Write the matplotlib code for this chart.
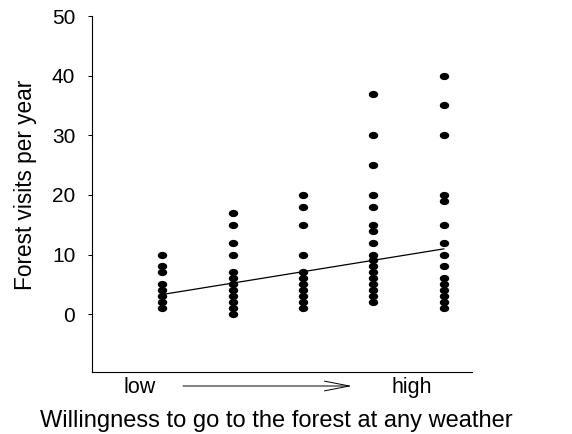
import numpy as np
import matplotlib
matplotlib.use("Agg")
import matplotlib.pyplot as plt
from matplotlib.path import Path

plt.rcParams['font.family'] = ['Liberation Sans', 'DejaVu Sans']

# forest visits per year, one list per willingness level (1 = low ... 5 = high)
level1 = [1, 2, 3, 4, 5, 7, 8, 10]
level2 = [0, 1, 2, 3, 4, 5, 6, 7, 10, 12, 15, 17]
level3 = [1, 2, 3, 4, 5, 6, 7, 10, 15, 18, 20]
level4 = [2, 3, 4, 5, 6, 7, 8, 9, 10, 12, 14, 15, 18, 20, 25, 30, 37]
level5 = [1, 2, 3, 4, 5, 6, 8, 10, 12, 15, 19, 20, 30, 35, 40]
levels = [level1, level2, level3, level4, level5]

# fitted line
fit_x = [1, 5]
fit_y = [3.3, 10.95]

yticks = [0, 10, 20, 30, 40, 50]

# slightly wide ellipse marker, like the original dots
t = np.linspace(0, 2 * np.pi, 40)
dot = Path(np.column_stack([1.3 * np.cos(t), np.sin(t)]), closed=True)

fig = plt.figure(figsize=(5.72, 4.34), dpi=100)
ax = fig.add_axes([92 / 572, 62 / 434, 380 / 572, 356 / 434])

for i, vals in enumerate(levels):
    ax.plot([i + 1] * len(vals), vals, linestyle='none', marker=dot,
            markersize=6.8, color='black', markeredgewidth=0)

ax.plot(fit_x, fit_y, color='black', linewidth=0.9)

ax.set_xlim(0, 5.4)
ax.set_ylim(-9.7, 50)
ax.set_yticks(yticks)
ax.set_xticks([])
ax.tick_params(axis='y', length=3, width=0.75, pad=9, labelsize=15)
for s in ['top', 'right']:
    ax.spines[s].set_visible(False)
for s in ['left', 'bottom']:
    ax.spines[s].set_linewidth(0.8)

fig.text(0.044, 0.574, "Forest visits per year", rotation=90,
         ha='center', va='center', fontsize=16.3)
fig.text(139.5 / 572, 1 - 393 / 434, "low", ha='center', va='baseline', fontsize=15.5)
fig.text(412 / 572, 1 - 393 / 434, "high", ha='center', va='baseline', fontsize=15.5)
fig.text(276 / 572, 1 - 427 / 434, "Willingness to go to the forest at any weather",
         ha='center', va='baseline', fontsize=17)

ax.annotate("", xy=(352 / 572, 1 - 386 / 434), xycoords='figure fraction',
            xytext=(183 / 572, 1 - 386 / 434), textcoords='figure fraction',
            arrowprops=dict(arrowstyle='->, head_length=1.8, head_width=0.35',
                            color='black', linewidth=0.7, mutation_scale=10,
                            shrinkA=0, shrinkB=0))

fig.savefig("out.png", dpi=100)
